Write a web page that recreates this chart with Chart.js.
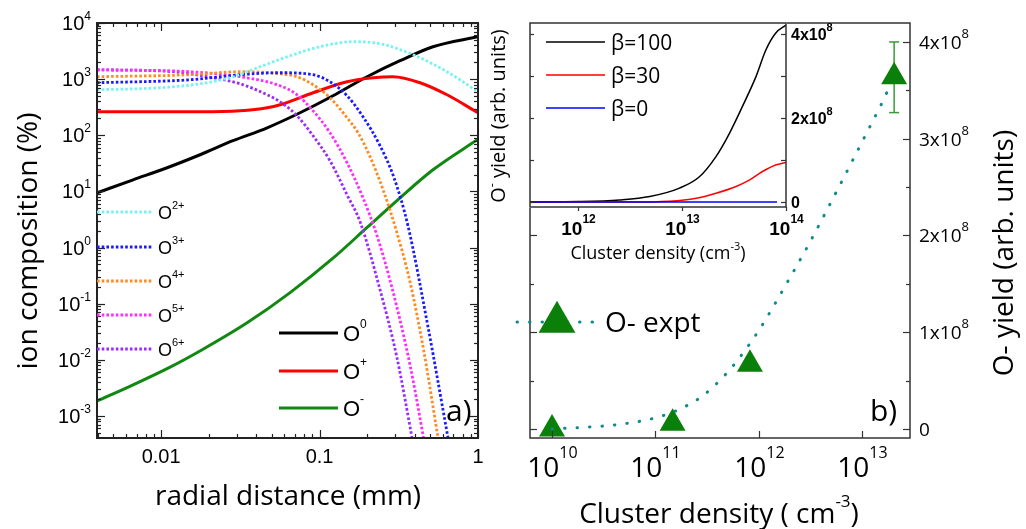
<!DOCTYPE html>
<html><head><meta charset="utf-8">
<script src="https://cdn.jsdelivr.net/npm/chart.js@4.4.1/dist/chart.umd.min.js"></script>
<style>
html,body{margin:0;padding:0;background:#fff;}
#wrap{position:relative;width:1026px;height:529px;overflow:hidden;background:#fff;}
#wrap canvas{position:absolute;top:0;}
</style></head><body>
<div id="wrap">
<canvas id="cA" width="490" height="529" style="left:0;width:490px;height:529px"></canvas>
<canvas id="cB" width="536" height="529" style="left:490px;width:536px;height:529px"></canvas>
<canvas id="cC" width="536" height="529" style="left:490px;width:536px;height:529px"></canvas>
</div>
<script>
// ================= Panel a : ion composition vs radial distance =================
const xTicksA = [0.01, 0.1, 1];
const xTickLabelsA = ['0.01', '0.1', '1'];
const yTickExpA = [4, 3, 2, 1, 0, -1, -2, -3];
const radMinA = 0.00394, radMaxA = 1, compMinA = 4.06e-4, compMaxA = 1e4;

const radO0  = [0.00394,0.00666,0.01091,0.01762,0.0284,0.0467,0.0753,0.1216,0.1995,0.3221,0.52,1];
const compO0 = [9.45,16.1,26.4,45,80,136,252,506,1104,2128,3783,5702];

const radOp  = [0.00394,0.01762,0.0315,0.0467,0.0564,0.0910,0.1492,0.2178,0.2911,0.4305,0.6373,1];
const compOp = [262,262,273,309,350,572,899,1059,1104,863,527,252];

const radOm  = [0.00394,0.00666,0.0114,0.0184,0.0349,0.0652,0.1216,0.1995,0.3221,0.52,1];
const compOm = [0.00185,0.0036,0.00743,0.0155,0.0458,0.158,0.647,2.28,7.7,24.3,85];

const radO2  = [0.00394,0.00986,0.01762,0.0272,0.0422,0.0652,0.1007,0.1627,0.2410,0.3891,0.6373,1];
const compO2 = [647,703,828,1059,1663,2614,3783,4645,4279,2723,1356,596];

const radO3  = [0.00394,0.01524,0.0315,0.0564,0.0910,0.1164,0.1492,0.188,0.2410,0.2952,0.3615,0.4837,0.6471,0.6861];
const compO3 = [863,975,1198,1301,1198,899,506,214,65,17.5,2.44,0.0386,4.06e-4,1.64e-4];

const radO4  = [0.00394,0.01524,0.0315,0.0564,0.0721,0.0910,0.1164,0.1492,0.1750,0.2084,0.2518,0.3041,0.3724,0.4561,0.5596,0.5929];
const compO4 = [1104,1198,1356,1248,1104,795,466,205,111,41.4,10.7,2.07,0.245,0.0138,4.06e-4,1.51e-4];

const radO5  = [0.00394,0.01524,0.0315,0.0564,0.0721,0.0910,0.1164,0.1492,0.188,0.2307,0.2911,0.3724,0.4498,0.4764];
const compO5 = [1471,1356,1104,763,527,273,111,32.4,7.7,1.62,0.162,0.0081,4.58e-4,1.78e-4];

const radO6  = [0.00394,0.0119,0.0195,0.0315,0.0467,0.0564,0.0721,0.0910,0.1164,0.1492,0.1803,0.2410,0.3083,0.3836,0.4064];
const compO6 = [1471,1356,1104,828,527,395,223,98,35.2,8.7,2.87,0.176,0.0108,4.06e-4,1.64e-4];

// ================= Panel b : O- yield vs cluster density =================
const bXTickExp = [10, 11, 12, 13];
const bYTickVals = [0, 1e8, 2e8, 3e8, 4e8];
const bYTickBase = ['0', '1x10', '2x10', '3x10', '4x10'];
const bYTickSup  = ['', '8', '8', '8', '8'];
const densMinB = 6.12e9, densMaxB = 2.92e13, yieldMinB = -0.093e8, yieldMaxB = 4.196e8;

const exptDensity = [1.0e10, 1.47e11, 8.24e11, 2.05e13];
const exptYield   = [0, 0.06e8, 0.67e8, 3.64e8];
const exptErrLo   = [null, null, null, 3.27e8];
const exptErrHi   = [null, null, null, 4.0e8];

const fitDensity = [1.0e10,4.17e10,9.55e10,1.65e11,2.85e11,4.9e11,7.59e11,1.1e12,1.53e12,2.09e12,2.86e12,3.85e12,5.13e12,6.82e12,9.04e12,1.2e13,1.585e13,1.8e13];
const fitYield   = [0,0.044e8,0.11e8,0.196e8,0.34e8,0.576e8,0.83e8,1.085e8,1.344e8,1.595e8,1.853e8,2.109e8,2.364e8,2.618e8,2.873e8,3.129e8,3.383e8,3.51e8];

// ================= Inset : model yield vs cluster density =================
const inXTickExp = [12, 13, 14];
const inYTickVals = [0, 1e8, 2e8, 3e8, 4e8];
const inYLabelVals = [0, 2e8, 4e8];
const inYLabelBase = ['0', '2x10', '4x10'];
const inYLabelSup  = ['', '8', '8'];
const densMinIn = 3.45e11, densMaxIn = 1e14, yieldMinIn = -0.119e8, yieldMaxIn = 4.262e8;

const inDens100  = [3.45e11,1e12,2.51e12,4.9e12,9.46e12,1.47e13,2.12e13,2.85e13,3.8e13,5.13e13,6.4e13,7.94e13,1e14];
const inYield100 = [0,0.01e8,0.05e8,0.13e8,0.33e8,0.60e8,1.08e8,1.63e8,2.27e8,2.98e8,3.62e8,4.02e8,4.21e8];
const inDens30   = [3.45e11,3e12,7.59e12,1.37e13,2.12e13,3.31e13,4.43e13,5.89e13,7.94e13,1e14];
const inYield30  = [0,0,0.02e8,0.09e8,0.21e8,0.37e8,0.52e8,0.72e8,0.88e8,0.94e8];
const inDens0    = [3.45e11, 8.2e13];
const inYield0   = [0, 0];

// ================= helpers =================
const zip = (xs, ys) => xs.map((x, i) => ({x, y: ys[i]}));
function rich(ctx, parts, x, y, align, rot) {
  ctx.save(); ctx.translate(x, y); if (rot) ctx.rotate(rot);
  ctx.textBaseline = 'alphabetic'; ctx.textAlign = 'left'; ctx.fillStyle = '#000';
  let w = 0;
  parts.forEach(p => { ctx.font = p.f; p.w = ctx.measureText(p.t).width; w += p.w; });
  let sx = align === 'center' ? -w / 2 : align === 'right' ? -w : 0;
  parts.forEach(p => { ctx.font = p.f; ctx.fillText(p.t, sx, p.dy || 0); sx += p.w; });
  ctx.restore();
}
function logVals(min, max) {
  const out = [];
  for (let d = Math.floor(Math.log10(min)); d <= Math.ceil(Math.log10(max)); d++)
    for (let m = 1; m < 10; m++) {
      const v = m * Math.pow(10, d);
      if (v >= min * 0.999 && v <= max * 1.001) out.push({v, major: m === 1});
    }
  return out;
}
function line(ctx, x1, y1, x2, y2) { ctx.beginPath(); ctx.moveTo(x1, y1); ctx.lineTo(x2, y2); ctx.stroke(); }
function triangle(ctx, x, y, r, color) {
  ctx.save(); ctx.fillStyle = color; ctx.beginPath();
  ctx.moveTo(x, y - r); ctx.lineTo(x + 0.866 * r, y + 0.5 * r); ctx.lineTo(x - 0.866 * r, y + 0.5 * r);
  ctx.closePath(); ctx.fill(); ctx.restore();
}
const baseOpts = (pad, scales) => ({
  responsive: false, animation: false, devicePixelRatio: 1, events: [],
  layout: {padding: pad},
  plugins: {legend: {display: false}, tooltip: {enabled: false}},
  scales: scales,
  elements: {point: {radius: 0}}
});
const DOT = [2.6, 2.1];
const colA = {O2: '#77f2f2', O3: '#1a1aff', O4: '#ff8a1f', O5: '#ff2bff', O6: '#9a2bff', O0: '#000000', Op: '#ff0000', Om: '#118811'};
const dsA = (xs, ys, c, dotted) => ({data: zip(xs, ys), showLine: true, borderColor: c, borderWidth: dotted ? 2.8 : 3,
  borderDash: dotted ? DOT : [], pointRadius: 0, cubicInterpolationMode: 'monotone', fill: false});

// ================= Chart A =================
const decoA = {
  id: 'decoA',
  afterDraw(chart) {
    const {ctx, chartArea: a, scales: {x, y}} = chart;
    ctx.save();
    ctx.strokeStyle = '#222'; ctx.lineWidth = 2;
    ctx.strokeRect(a.left, a.top, a.right - a.left, a.bottom - a.top);
    ctx.lineWidth = 1.2;
    logVals(compMinA, compMaxA).forEach(t => {
      const py = Math.round(y.getPixelForValue(t.v)) + 0.5, L = t.major ? 8 : 4;
      line(ctx, a.left, py, a.left + L, py); line(ctx, a.right, py, a.right - L, py);
    });
    logVals(radMinA, radMaxA).forEach(t => {
      const px = Math.round(x.getPixelForValue(t.v)) + 0.5, L = t.major ? 8 : 4;
      line(ctx, px, a.bottom, px, a.bottom - L); line(ctx, px, a.top, px, a.top + L);
    });
    yTickExpA.forEach(e => {
      const py = y.getPixelForValue(Math.pow(10, e));
      rich(ctx, [{t: '10', f: '20px "Liberation Sans"'}, {t: String(e), f: '12px "Liberation Sans"', dy: -10}], 91, py + 7, 'right');
    });
    xTicksA.forEach((v, i) => rich(ctx, [{t: xTickLabelsA[i], f: '20px "Liberation Sans"'}], x.getPixelForValue(v), 463, 'center'));
    rich(ctx, [{t: 'radial distance (mm)', f: '28px "Open Sans"'}], 288, 505, 'center');
    rich(ctx, [{t: 'ion composition (%)', f: '28px "Open Sans"'}], 37, 241, 'center', -Math.PI / 2);
    const leg1 = [['2+', colA.O2, 212], ['3+', colA.O3, 247], ['4+', colA.O4, 281], ['5+', colA.O5, 315], ['6+', colA.O6, 349]];
    leg1.forEach(([s, c, ly]) => {
      ctx.save(); ctx.strokeStyle = c; ctx.lineWidth = 2.8; ctx.setLineDash(DOT); line(ctx, 97, ly, 153, ly); ctx.restore();
      rich(ctx, [{t: 'O', f: '18px "Liberation Sans"'}, {t: s, f: '11px "Liberation Sans"', dy: -10}], 158, ly + 7, 'left');
    });
    const leg2 = [['0', colA.O0, 333], ['+', colA.Op, 371], ['-', colA.Om, 408]];
    leg2.forEach(([s, c, ly]) => {
      ctx.save(); ctx.strokeStyle = c; ctx.lineWidth = 3; line(ctx, 279, ly, 338, ly); ctx.restore();
      rich(ctx, [{t: 'O', f: '22px "Liberation Sans"'}, {t: s, f: '12px "Liberation Sans"', dy: -13}], 343, ly + 8, 'left');
    });
    rich(ctx, [{t: 'a)', f: '30px "Open Sans"'}], 446, 421, 'left');
    ctx.restore();
  }
};
new Chart(document.getElementById('cA'), {
  type: 'scatter',
  data: {datasets: [
    dsA(radO2, compO2, colA.O2, true),
    dsA(radO3, compO3, colA.O3, true),
    dsA(radO4, compO4, colA.O4, true),
    dsA(radO5, compO5, colA.O5, true),
    dsA(radO6, compO6, colA.O6, true),
    dsA(radOm, compOm, colA.Om, false),
    dsA(radOp, compOp, colA.Op, false),
    dsA(radO0, compO0, colA.O0, false)
  ]},
  options: baseOpts({left: 97, right: 12, top: 23, bottom: 91}, {
    x: {type: 'logarithmic', display: false, min: radMinA, max: radMaxA},
    y: {type: 'logarithmic', display: false, min: compMinA, max: compMaxA}
  }),
  plugins: [decoA]
});

// ================= Chart B =================
const FITC = '#0e8a8a', GREEN = '#0a800a';
const FITDASH = [0.5, 12];
const decoB = {
  id: 'decoB',
  beforeDatasetsDraw(chart) {
    const {ctx, scales: {x, y}} = chart;
    ctx.save(); ctx.strokeStyle = '#3a9a3a'; ctx.lineWidth = 1.5;
    exptDensity.forEach((d, i) => {
      if (exptErrHi[i] == null) return;
      const px = x.getPixelForValue(d), y1 = y.getPixelForValue(exptErrHi[i]), y2 = y.getPixelForValue(exptErrLo[i]);
      line(ctx, px, y1, px, y2); line(ctx, px - 5, y1, px + 5, y1); line(ctx, px - 5, y2, px + 5, y2);
    });
    ctx.restore();
  },
  afterDraw(chart) {
    const {ctx, chartArea: a, scales: {x, y}} = chart;
    ctx.save();
    ctx.strokeStyle = '#333'; ctx.lineWidth = 1.5;
    ctx.strokeRect(a.left, a.top, a.right - a.left, a.bottom - a.top);
    ctx.lineWidth = 1.2;
    for (let v = 0; v <= yieldMaxB; v += 0.5e8) {
      const py = Math.round(y.getPixelForValue(v)) + 0.5, L = (Math.round(v / 1e8 * 2) % 2 === 0) ? 7 : 4;
      line(ctx, a.left, py, a.left + L, py); line(ctx, a.right, py, a.right - L, py);
    }
    bXTickExp.forEach(e => {
      const px = Math.round(x.getPixelForValue(Math.pow(10, e))) + 0.5;
      line(ctx, px, a.bottom, px, a.bottom - 7);
      rich(ctx, [{t: '10', f: '28px "Open Sans"'}, {t: String(e), f: '16px "Open Sans"', dy: -19}], px, 477, 'center');
    });
    bYTickVals.forEach((v, i) => {
      const py = y.getPixelForValue(v);
      const parts = [{t: bYTickBase[i], f: '19px "Open Sans"'}];
      if (bYTickSup[i]) parts.push({t: bYTickSup[i], f: '13px "Open Sans"', dy: -11});
      rich(ctx, parts, 429, py + 7, 'left');
    });
    rich(ctx, [{t: 'Cluster density ( cm', f: '28px "Open Sans"'}, {t: '-3', f: '17px "Open Sans"', dy: -16}, {t: ')', f: '28px "Open Sans"'}], 229, 523, 'center');
    rich(ctx, [{t: 'O- yield (arb. units)', f: '28px "Open Sans"'}], 523, 253, 'center', -Math.PI / 2);
    ctx.save(); ctx.strokeStyle = FITC; ctx.lineWidth = 3; ctx.lineCap = 'round'; ctx.setLineDash(FITDASH);
    line(ctx, 27, 322, 106, 322); ctx.restore();
    triangle(ctx, 67, 322, 21.3, GREEN);
    rich(ctx, [{t: 'O- expt', f: '28px "Open Sans"'}], 115, 332, 'left');
    rich(ctx, [{t: 'b)', f: '30px "Open Sans"'}], 380, 421, 'left');
    ctx.restore();
  }
};
new Chart(document.getElementById('cB'), {
  type: 'scatter',
  data: {datasets: [
    {data: zip(fitDensity, fitYield), showLine: true, borderColor: FITC, borderWidth: 3, borderDash: FITDASH,
     borderCapStyle: 'round', pointRadius: 0, cubicInterpolationMode: 'monotone', fill: false},
    {data: zip(exptDensity, exptYield), showLine: false, pointStyle: 'triangle', pointRadius: 15,
     backgroundColor: GREEN, borderColor: GREEN, borderWidth: 0}
  ]},
  options: baseOpts({left: 40, right: 116, top: 23, bottom: 91}, {
    x: {type: 'logarithmic', display: false, min: densMinB, max: densMaxB},
    y: {type: 'linear', display: false, min: yieldMinB, max: yieldMaxB}
  }),
  plugins: [decoB]
});

// ================= Chart C (inset) =================
const decoC = {
  id: 'decoC',
  beforeDraw(chart) {
    const {ctx, chartArea: a} = chart;
    ctx.save(); ctx.fillStyle = '#fff'; ctx.fillRect(a.left - 1, a.top - 1, a.right - a.left + 2, a.bottom - a.top + 2); ctx.restore();
  },
  afterDraw(chart) {
    const {ctx, chartArea: a, scales: {x, y}} = chart;
    ctx.save();
    ctx.strokeStyle = '#333'; ctx.lineWidth = 1.5;
    ctx.strokeRect(a.left, a.top, a.right - a.left, a.bottom - a.top);
    ctx.lineWidth = 1.2;
    inYTickVals.forEach(v => {
      const py = Math.round(y.getPixelForValue(v)) + 0.5;
      line(ctx, a.left, py, a.left + 4, py); line(ctx, a.right, py, a.right - 5, py);
    });
    inXTickExp.forEach(e => {
      const px = Math.round(x.getPixelForValue(Math.pow(10, e))) + 0.5;
      line(ctx, px, a.bottom, px, a.bottom + 4);
      rich(ctx, [{t: '10', f: 'bold 19px "Liberation Sans"'}, {t: String(e), f: 'bold 12px "Liberation Sans"', dy: -12}], px, 235, 'center');
    });
    inYLabelVals.forEach((v, i) => {
      const py = y.getPixelForValue(v);
      const parts = [{t: inYLabelBase[i], f: 'bold 16px "Liberation Sans"'}];
      if (inYLabelSup[i]) parts.push({t: inYLabelSup[i], f: 'bold 11px "Liberation Sans"', dy: -9});
      rich(ctx, parts, a.right + 5, py + 6, 'left');
    });
    rich(ctx, [{t: 'Cluster density (cm', f: '18px "Open Sans"'}, {t: '-3', f: '11px "Open Sans"', dy: -9}, {t: ')', f: '18px "Open Sans"'}], 168, 259, 'center');
    rich(ctx, [{t: 'O', f: '20px "Open Sans"'}, {t: '-', f: '12px "Open Sans"', dy: -9}, {t: ' yield (arb. units)', f: '20px "Open Sans"'}], 15, 116, 'center', -Math.PI / 2);
    const leg = [['β=100', '#000', 42], ['β=30', '#ff0000', 75], ['β=0', '#0000ff', 108]];
    leg.forEach(([t, c, ly]) => {
      ctx.save(); ctx.strokeStyle = c; ctx.lineWidth = 1.5; line(ctx, 56, ly, 115, ly); ctx.restore();
      rich(ctx, [{t: t, f: '21px "Open Sans"'}], 121, ly + 7.5, 'left');
    });
    ctx.restore();
  }
};
const dsC = (xs, ys, c) => ({data: zip(xs, ys), showLine: true, borderColor: c, borderWidth: 1.5, pointRadius: 0,
  cubicInterpolationMode: 'monotone', fill: false});
new Chart(document.getElementById('cC'), {
  type: 'scatter',
  data: {datasets: [
    dsC(inDens0, inYield0, '#0000ff'),
    dsC(inDens30, inYield30, '#ff0000'),
    dsC(inDens100, inYield100, '#000000')
  ]},
  options: baseOpts({left: 40, right: 240, top: 23, bottom: 322}, {
    x: {type: 'logarithmic', display: false, min: densMinIn, max: densMaxIn},
    y: {type: 'linear', display: false, min: yieldMinIn, max: yieldMaxIn}
  }),
  plugins: [decoC]
});
</script>
</body></html>
